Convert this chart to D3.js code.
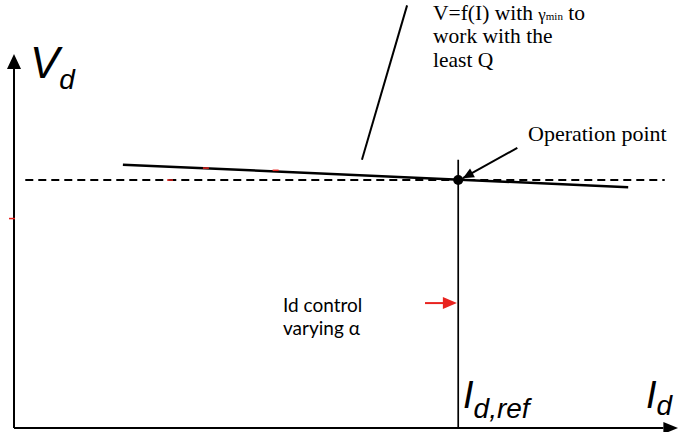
<!DOCTYPE html>
<html>
<head>
<meta charset="utf-8">
<script src="https://cdn.jsdelivr.net/npm/d3@7"></script>
<style>
  body { margin: 0; background: #fff; }
  svg { display: block; }
</style>
</head>
<body>
<script>
// Vd / Id operating diagram (abstract units 0..100 on both axes)

const width = 680, height = 432;

// key levels
const idRef = 66.9;          // Id,ref position on the current axis
const vdRef = 66.3;          // voltage of the operation point (dashed line)
const droopLine = [{i: 16.4, v: 70.4}, {i: 92.5, v: 64.4}];   // V=f(I)
const dashedSpan = [1.7, 98.0];
const refLineTop = 71.7;
const opLeader = [{i: 75.8, v: 74.9}, {i: 67.6, v: 66.8}];
const curveLeader = [{i: 59.2, v: 113.0}, {i: 52.4, v: 71.7}];
const redArrow = [{i: 61.9, v: 33.4}, {i: 66.7, v: 33.4}];
const redMarks = [{i: -0.3, v: 56.0}, {i: 23.5, v: 66.3}, {i: 28.9, v: 69.5}, {i: 39.4, v: 68.9}];

const x = d3.scaleLinear().domain([0, 100]).range([14, 678]);
const y = d3.scaleLinear().domain([0, 100]).range([428, 54]);

const svg = d3.select("body").append("svg")
    .attr("width", width)
    .attr("height", height);

// axes
svg.append("line")
    .attr("x1", x(0)).attr("y1", y(0))
    .attr("x2", x(0)).attr("y2", y(96))
    .attr("stroke", "black").attr("stroke-width", 2);
svg.append("path")
    .attr("d", `M${x(0)},${y(100)} L${x(0) - 7},${y(96)} L${x(0) + 7},${y(96)} Z`)
    .attr("fill", "black");

svg.append("line")
    .attr("x1", x(0)).attr("y1", y(0))
    .attr("x2", x(97.8)).attr("y2", y(0))
    .attr("stroke", "black").attr("stroke-width", 2);
svg.append("path")
    .attr("d", `M${x(100)},${y(0)} L${x(97.8)},${y(0) - 6} L${x(97.8)},${y(0) + 6} Z`)
    .attr("fill", "black");

// dashed reference voltage
svg.append("line")
    .attr("x1", x(dashedSpan[0])).attr("y1", y(vdRef))
    .attr("x2", x(dashedSpan[1])).attr("y2", y(vdRef))
    .attr("stroke", "black").attr("stroke-width", 2)
    .attr("stroke-dasharray", "8,5");

// Id,ref vertical
svg.append("line")
    .attr("x1", x(idRef)).attr("y1", y(0))
    .attr("x2", x(idRef)).attr("y2", y(refLineTop))
    .attr("stroke", "black").attr("stroke-width", 1.7);

// V=f(I) characteristic
const line = d3.line().x(d => x(d.i)).y(d => y(d.v));
svg.append("path")
    .attr("d", line(droopLine))
    .attr("fill", "none").attr("stroke", "black").attr("stroke-width", 2.5);

// small red marks
svg.selectAll(".red-mark")
    .data(redMarks)
    .join("line")
    .attr("class", "red-mark")
    .attr("x1", d => x(d.i) - 3).attr("x2", d => x(d.i) + 3)
    .attr("y1", d => y(d.v)).attr("y2", d => y(d.v))
    .attr("stroke", "#e8231f").attr("stroke-width", 1.5);

// operation point
svg.append("circle")
    .attr("cx", x(idRef)).attr("cy", y(vdRef)).attr("r", 5)
    .attr("fill", "black");

// leaders
svg.append("path")
    .attr("d", line(curveLeader))
    .attr("fill", "none").attr("stroke", "black").attr("stroke-width", 2);

const op0 = opLeader[0], op1 = opLeader[1];
const ang = Math.atan2(y(op1.v) - y(op0.v), x(op1.i) - x(op0.i));
svg.append("line")
    .attr("x1", x(op0.i)).attr("y1", y(op0.v))
    .attr("x2", x(op1.i)).attr("y2", y(op1.v))
    .attr("stroke", "black").attr("stroke-width", 2);
svg.append("path")
    .attr("d", "M0,0 L-11,-5 L-11,5 Z")
    .attr("transform", `translate(${x(op1.i)},${y(op1.v)}) rotate(${ang * 180 / Math.PI})`)
    .attr("fill", "black");

// red arrow
svg.append("line")
    .attr("x1", x(redArrow[0].i)).attr("y1", y(redArrow[0].v))
    .attr("x2", x(redArrow[1].i) - 12).attr("y2", y(redArrow[1].v))
    .attr("stroke", "#e8231f").attr("stroke-width", 2);
svg.append("path")
    .attr("d", `M${x(redArrow[1].i)},${y(redArrow[1].v)} l-14,-6 l0,12 Z`)
    .attr("fill", "#e8231f");

// labels
const sans = "'Liberation Sans', Arial, sans-serif";
const serif = "'Liberation Serif', 'Times New Roman', serif";

const vd = svg.append("text")
    .attr("x", 30).attr("y", 78)
    .attr("font-family", sans).attr("font-style", "italic")
    .attr("font-size", 44);
vd.append("tspan").text("V");
vd.append("tspan").attr("font-size", 28).attr("dy", 11).text("d");

const iref = svg.append("text")
    .attr("x", 463).attr("y", 408)
    .attr("font-family", sans).attr("font-style", "italic")
    .attr("font-size", 38);
iref.append("tspan").text("I");
iref.append("tspan").attr("font-size", 28).attr("dy", 10).text("d,ref");

const id = svg.append("text")
    .attr("x", 646).attr("y", 408)
    .attr("font-family", sans).attr("font-style", "italic")
    .attr("font-size", 38);
id.append("tspan").text("I");
id.append("tspan").attr("font-size", 28).attr("dy", 7).text("d");

svg.append("text")
    .attr("x", 528).attr("y", 141)
    .attr("font-family", serif).attr("font-size", 22)
    .text("Operation point");

const t1 = svg.append("text")
    .attr("x", 433).attr("y", 20)
    .attr("font-family", serif).attr("font-size", 21.5);
t1.append("tspan").text("V=f(I) with ");
t1.append("tspan").attr("font-size", 17).text("γ");
t1.append("tspan").attr("font-size", 11).text("min");
t1.append("tspan").text(" to");
svg.append("text")
    .attr("x", 433).attr("y", 43)
    .attr("font-family", serif).attr("font-size", 21.5)
    .text("work with the");
svg.append("text")
    .attr("x", 433).attr("y", 67)
    .attr("font-family", serif).attr("font-size", 21.5)
    .text("least Q");

svg.append("text")
    .attr("x", 283).attr("y", 312)
    .attr("font-family", "Lato, 'Open Sans', sans-serif").attr("font-size", 19)
    .text("Id control");
svg.append("text")
    .attr("x", 283).attr("y", 335)
    .attr("font-family", "Lato, 'Open Sans', sans-serif").attr("font-size", 19)
    .text("varying α");
</script>
</body>
</html>
